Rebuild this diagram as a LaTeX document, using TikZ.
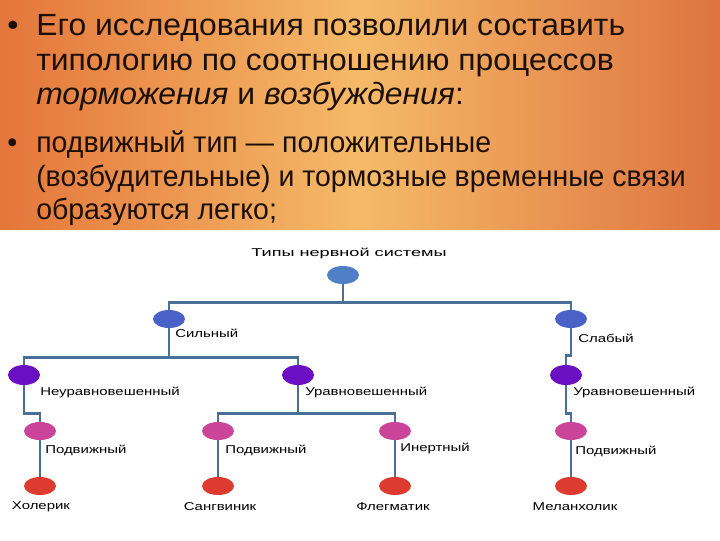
\documentclass[tikz,border=0pt]{standalone}
\usepackage{fontspec}
\setmainfont{Liberation Sans}
\newfontfamily\slidefont[FakeStretch=1.04]{Liberation Sans}
\newfontfamily\slidesmallfont[FakeStretch=0.97]{Liberation Sans}
\newfontfamily\chartfont[FakeStretch=1.32]{Liberation Sans}
\newfontfamily\charttitlefont[FakeStretch=1.6]{Liberation Sans}
\usetikzlibrary{shapes.geometric}
\definecolor{BandLeft}{HTML}{E4763B}
\definecolor{BandMid}{HTML}{F5BA68}
\definecolor{BandRight}{HTML}{DE7440}
\definecolor{InkDark}{HTML}{1C0F06}
\definecolor{LinkBlue}{HTML}{4A6F96}
\definecolor{RootBlue}{HTML}{4F80C5}
\definecolor{RoyalBlue}{HTML}{4A62C8}
\definecolor{Violet}{HTML}{6A0FC2}
\definecolor{Orchid}{HTML}{CA449A}
\definecolor{Scarlet}{HTML}{DD3A30}

\begin{document}
\begin{tikzpicture}[x=0.75pt,y=-0.75pt,
  slide/.style={font=\slidefont\fontsize{23}{25}\selectfont,text=InkDark,inner sep=0pt,anchor=base west},
  slidesmall/.style={slide,font=\slidesmallfont\fontsize{22}{24}\selectfont},
  blob/.style={ellipse,minimum width=24pt,minimum height=13.5pt,inner sep=0pt},
  tag/.style={font=\chartfont\fontsize{8.5}{10}\selectfont,inner sep=0pt,anchor=west},
  link/.style={draw=LinkBlue,line width=2.2pt}]
\useasboundingbox (0,0) rectangle (720,540);
% orange band and white lower part
\fill[white] (0,0) rectangle (720,540);
\shade[left color=BandLeft,right color=BandRight,middle color=BandMid] (0,0) rectangle (720,229);

% bullet text
\node[slide] (b1) at (7,35) {•};
\node[slide] (l1) at (36,35) {Его исследования позволили составить};
\node[slide] (l2) at (36,70) {типологию по соотношению процессов};
\node[slide] (l3) at (36,104) {\itshape торможения\upshape{} и \itshape возбуждения\upshape:};
\node[slidesmall] (b2) at (7,152) {•};
\node[slidesmall] (l4) at (36,152) {подвижный тип — положительные};
\node[slidesmall] (l5) at (36,186) {(возбудительные) и тормозные временные связи};
\node[slidesmall] (l6) at (36,219) {образуются легко;};

% tree nodes
\node[blob,fill=RootBlue] (root) at (343,275) {};
\node[blob,fill=RoyalBlue] (strong) at (169,319) {};
\node[blob,fill=RoyalBlue] (weak) at (571,319) {};
\node[blob,fill=Violet,minimum height=15pt] (unbal) at (24,375) {};
\node[blob,fill=Violet,minimum height=15pt] (bal) at (298,375) {};
\node[blob,fill=Violet,minimum height=15pt] (balweak) at (566,375) {};
\foreach \name/\x in {mobA/40,mobB/218,inert/395,mobC/571}
  \node[blob,fill=Orchid] (\name) at (\x,431) {};
\foreach \name/\x in {chol/40,sang/218,phleg/395,melan/571}
  \node[blob,fill=Scarlet] (\name) at (\x,486) {};

% connectors
\draw[link] (root.south) -- ++(0,18) -| (strong.north);
\draw[link] (root.south) -- ++(0,18) -| (weak.north);
\draw[link] (strong.south) -- ++(0,29) -| (unbal.north);
\draw[link] (strong.south) -- ++(0,29) -| (bal.north);
\draw[link] (weak.south) -- ++(0,27) -| (balweak.north);
\draw[link] (unbal.south) -- ++(0,28) -| (mobA.north);
\draw[link] (bal.south) -- ++(0,28) -| (mobB.north);
\draw[link] (bal.south) -- ++(0,28) -| (inert.north);
\draw[link] (balweak.south) -- ++(0,28) -| (mobC.north);
\foreach \a/\b in {mobA/chol,mobB/sang,inert/phleg,mobC/melan}
  \draw[link] (\a.south) -- (\b.north);

% labels
\node[tag,anchor=center,font=\charttitlefont\fontsize{8.5}{10}\selectfont] (tRoot) at (349,253) {Типы нервной системы};
\node[tag] (tStrong) at (175,333) {Сильный};
\node[tag] (tWeak) at (578,338) {Слабый};
\node[tag] (tUnbal) at (40,392) {Неуравновешенный};
\node[tag] (tBal) at (305,392) {Уравновешенный};
\node[tag] (tBalWeak) at (573,392) {Уравновешенный};
\node[tag] (tMobA) at (45,450) {Подвижный};
\node[tag] (tMobB) at (225,450) {Подвижный};
\node[tag] (tInert) at (400,448) {Инертный};
\node[tag] (tMobC) at (575,451) {Подвижный};
\foreach \name/\x/\txt in {tChol/41/Холерик,tSang/220/Сангвиник,tPhleg/393/Флегматик,tMelan/575/Меланхолик}
  \node[tag,anchor=center] (\name) at (\x,507) {\txt};
\end{tikzpicture}
\end{document}
